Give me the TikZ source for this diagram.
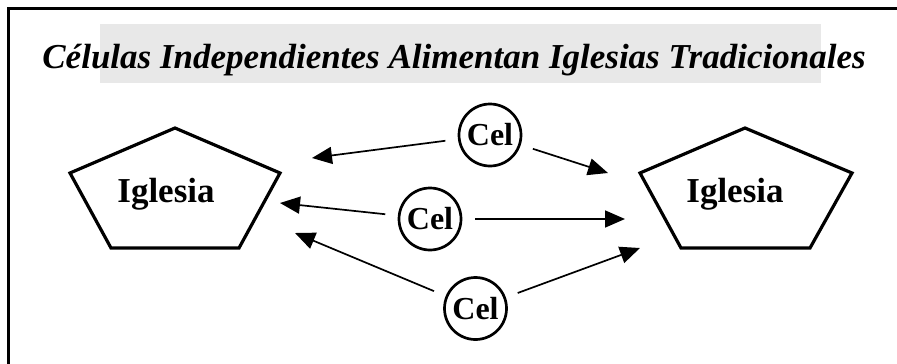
\documentclass[tikz,border=0pt]{standalone}
\usepackage{fontspec}
\setmainfont{Liberation Serif}
\usepackage{tikz}
\usetikzlibrary{arrows.meta}
\definecolor{titlegray}{HTML}{E8E8E8}

\begin{document}
\begin{tikzpicture}[x=1pt,y=-1pt]
		\useasboundingbox (0,0) rectangle (897,364);
		\draw[line width=3pt] (8.5,364) -- (8.5,8.5) -- (897,8.5);
		\fill[titlegray] (100,24) rectangle (821,83);
		\node[anchor=base,inner sep=0pt,font=\fontsize{35}{42}\selectfont\bfseries\itshape] (title) at (454,68) {Células Independientes Alimentan Iglesias Tradicionales};

		\begin{scope}[line width=3.2pt,line join=miter]
		\draw (175,128) -- (280,173) -- (239,248) -- (111,248) -- (70,173) -- cycle;
		\draw (745,128) -- (852,173) -- (810,248) -- (681,248) -- (640,173) -- cycle;
		\end{scope}
		\begin{scope}[every node/.style={anchor=base,inner sep=0pt,font=\fontsize{35}{40}\selectfont\bfseries}]
		\node (IglesiaL) at (166,202) {Iglesia};
		\node (IglesiaR) at (735,202) {Iglesia};
		\end{scope}

		\begin{scope}[every node/.style={circle,draw=black,line width=2.7pt,minimum size=62pt,inner sep=0pt,outer sep=14pt,font=\fontsize{32}{36}\selectfont\bfseries}]
		\node (CelA) at (490,135) {Cel};
		\node (CelB) at (430,219) {Cel};
		\node (CelC) at (475.5,308.5) {Cel};
		\end{scope}

		\coordinate (LA) at (312,158);
		\coordinate (LB) at (280,203);
		\coordinate (LC) at (295,233);
		\coordinate (RA) at (608,173);
		\coordinate (RB) at (625,219);
		\coordinate (RC) at (640,248);

		\begin{scope}[>={Triangle[length=20pt,width=17pt]},
		every edge/.style={draw=black,line width=1.7pt}]
		\path [->] (CelA) edge (LA);
		\path [->] (CelA) edge (RA);
		\path [->] (CelB) edge (LB);
		\path [->] (CelB) edge (RB);
		\path [->] (CelC) edge (LC);
		\path [->] (CelC) edge (RC);
		\end{scope}
		\end{tikzpicture}
\end{document}
